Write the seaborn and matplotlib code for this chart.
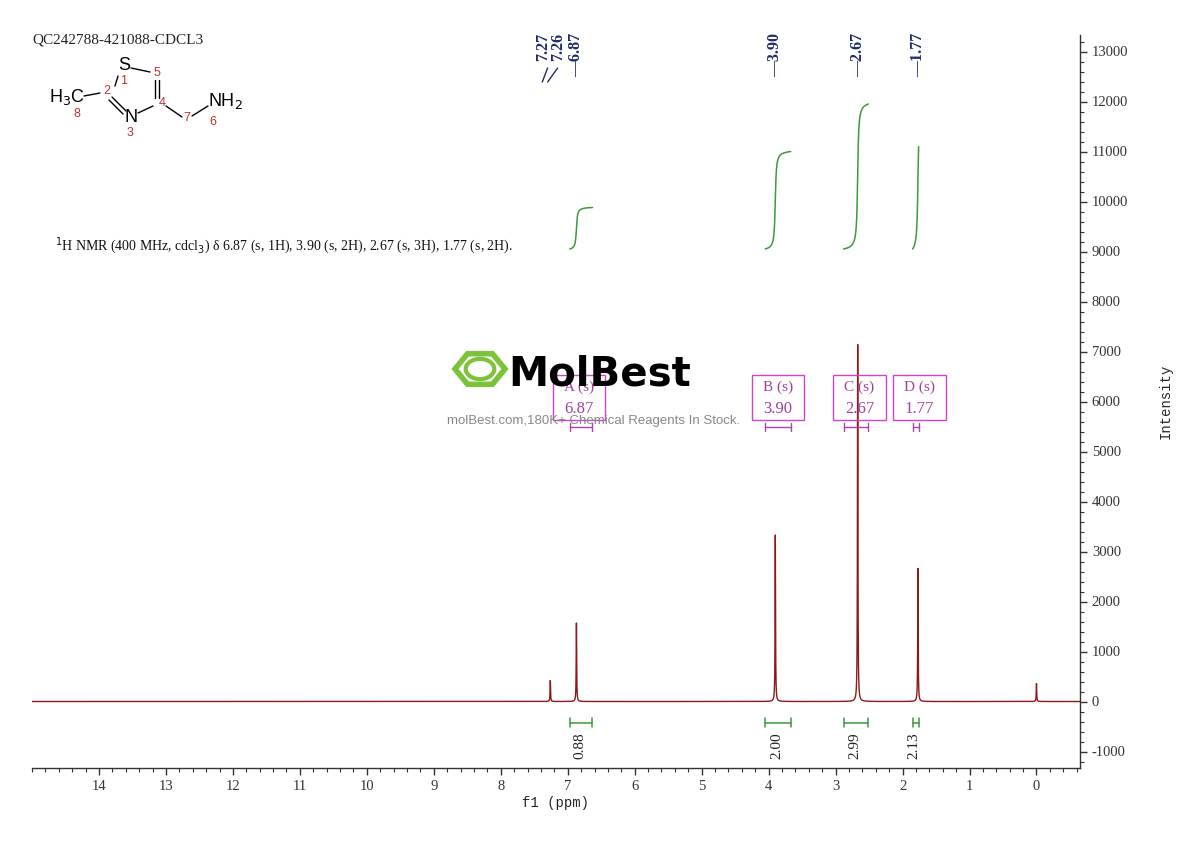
import numpy as np
import matplotlib
matplotlib.use("Agg")
import matplotlib.pyplot as plt
import seaborn as sns
from matplotlib.patches import Rectangle, RegularPolygon
from matplotlib.ticker import MultipleLocator, FixedLocator
import matplotlib.transforms as mtr

sns.set_theme(style="white")
plt.rcParams['font.family'] = ['Liberation Serif', 'DejaVu Sans']

# data
peak_ppm = [7.26, 6.87, 3.90, 2.67, 1.77, 0.00]
peak_height = [420, 1570, 3330, 7150, 2660, 360]
int_ranges = [(6.97, 6.63), (4.05, 3.67), (2.88, 2.51), (1.85, 1.76)]
int_values = ["0.88", "2.00", "2.99", "2.13"]
int_curve_top = [9880, 11000, 11950, 11100]
int_curve_base = 9050
peak_labels = ["7.27", "7.26", "6.87", "3.90", "2.67", "1.77"]
mult_letters = ["A", "B", "C", "D"]
mult_shifts = ["6.87", "3.90", "2.67", "1.77"]
x_ticks = list(range(0, 15))

W, H = 1190, 841
fig = plt.figure(figsize=(W/100, H/100), dpi=100)
ax = fig.add_axes([32/W, 1-768/H, (1080-32)/W, (768-35)/H])

x = np.linspace(15, -0.65, 40000)
g = 0.004
y = np.zeros_like(x)
for p, h in zip(peak_ppm, peak_height):
    y += h * g**2 / ((x - p)**2 + g**2)
sns.lineplot(x=x, y=y, ax=ax, color="#8B1A1A", lw=1.0, sort=False)

for (a, b), top in zip(int_ranges, int_curve_top):
    xs = np.linspace(a, b, 400)
    ys = np.zeros_like(xs)
    for p, h in zip(peak_ppm, peak_height):
        ys += h * 0.012**2 / ((xs - p)**2 + 0.012**2)
    c = np.cumsum(ys); c = c / c[-1]
    ax.plot(xs, int_curve_base + c*(top-int_curve_base), color="#3C9A3C", lw=1.1)
    ax.plot([a, b], [-420, -420], color="#3C9A3C", lw=1.1)
    for e in (a, b):
        ax.plot([e, e], [-330, -510], color="#3C9A3C", lw=1.1)

def fy(py):
    return 1 - py/H
blend = mtr.blended_transform_factory(ax.transData, fig.transFigure)

for (a, b), v in zip(int_ranges, int_values):
    ax.text((a+b)/2 + 0.02, -620, v, rotation=90, ha="center", va="top",
            fontsize=11, color="#222222")

lab_x = [7.37, 7.15, 6.87, 3.90, 2.67, 1.77]
for i, (lx, lab) in enumerate(zip(lab_x, peak_labels)):
    txt = lab if i < 2 else "\u2014" + lab
    ax.text(lx, fy(33), txt, transform=blend, rotation=90, ha="center", va="top",
            fontsize=11.5, fontweight="bold", color="#1F2A6B")
ax.plot([7.30, 7.38], [fy(68), fy(82)], transform=blend, color="#1F2A6B", lw=1)
ax.plot([7.15, 7.30], [fy(68), fy(82)], transform=blend, color="#1F2A6B", lw=1)

box_px = [(553, 605), (752, 804), (833, 886), (893, 946)]
mono = ["Liberation Mono", "DejaVu Sans Mono"]
for (x0, x1), L, s, (a, b) in zip(box_px, mult_letters, mult_shifts, int_ranges):
    fig.patches.append(Rectangle((x0/W, fy(420)), (x1-x0)/W, 45/H, transform=fig.transFigure,
                                 fill=False, ec="#CC44CC", lw=1))
    fig.text((x0+x1)/2/W, fy(387), f"{L} (s)", ha="center", va="center", fontsize=11,
             color="#A040A0", family=["Liberation Serif"])
    fig.text((x0+x1)/2/W, fy(409), s, ha="center", va="center", fontsize=12,
             color="#A040A0", family=["Liberation Serif"])
    ax.plot([a, b], [fy(427), fy(427)], transform=blend, color="#B040B0", lw=1)
    for e in (a, b):
        ax.plot([e, e], [fy(423), fy(431)], transform=blend, color="#B040B0", lw=1)

fig.text(508/W, fy(375), "MolBest", fontsize=29, color="black", va="center",
         family=["DejaVu Sans"], fontweight="bold")
fig.patches.append(RegularPolygon((480/W, fy(369)), 6, radius=0.021, orientation=np.pi/6,
                                  transform=fig.transFigure, fill=False, ec="#7CC33A", lw=4))
fig.patches.append(plt.Circle((480/W, fy(369)), 0.012, transform=fig.transFigure,
                              fill=False, ec="#7CC33A", lw=3))
fig.text(594/W, fy(421), "molBest.com,180K+ Chemical Reagents In Stock.", ha="center",
         va="center", fontsize=9.5, color="#888888", family=["Liberation Sans"])

fig.text(32/W, fy(40), "QC242788-421088-CDCL3", fontsize=11, va="center", color="#222222")
fig.text(55/W, fy(246), r"$^{1}$H NMR (400 MHz, cdcl$_{3}$) δ 6.87 (s, 1H), 3.90 (s, 2H), 2.67 (s, 3H), 1.77 (s, 2H).",
         fontsize=10, va="center", color="#111111")

sf = ["Liberation Sans", "DejaVu Sans"]
def T(px, py, s, size, c):
    fig.text(px/W, fy(py), s, ha="center", va="center", fontsize=size, color=c, family=sf)
T(124, 66, "S", 13, "black"); T(157, 73, "5", 9, "#C03030"); T(124, 81, "1", 9, "#C03030")
T(107, 91, "2", 9, "#C03030"); T(67, 97, r"H$_3$C", 13, "black"); T(77, 114, "8", 9, "#C03030")
T(162, 103, "4", 9, "#C03030"); T(131, 117, "N", 13, "black"); T(130, 133, "3", 9, "#C03030")
T(187, 118, "7", 9, "#C03030"); T(225, 101, r"NH$_2$", 13, "black"); T(213, 122, "6", 9, "#C03030")
def Lp(x0, y0, x1, y1):
    fig.add_artist(plt.Line2D([x0/W, x1/W], [fy(y0), fy(y1)], color="black", lw=1,
                              transform=fig.transFigure))
Lp(84, 96, 100, 93); Lp(115, 86, 118, 76); Lp(131, 68, 150, 72)
Lp(155, 80, 155, 98); Lp(159, 80, 159, 98); Lp(153, 106, 138, 113)
Lp(126, 111, 112, 97); Lp(123, 114, 109, 100); Lp(166, 106, 182, 117); Lp(192, 116, 208, 106)

ax.set_xlim(15, -0.65)
ax.set_ylim(-1330, 13330)
ax.xaxis.set_major_locator(FixedLocator(x_ticks))
ax.xaxis.set_minor_locator(MultipleLocator(0.2))
ax.yaxis.set_major_locator(MultipleLocator(1000))
ax.yaxis.set_minor_locator(MultipleLocator(200))
ax.yaxis.tick_right()
ax.yaxis.set_label_position("right")
for s in ["top", "left"]:
    ax.spines[s].set_visible(False)
for s in ["bottom", "right"]:
    ax.spines[s].set_color("#333333"); ax.spines[s].set_linewidth(1)
ax.tick_params(axis="both", which="major", direction="out", length=5, width=1,
               colors="#333333", labelsize=10.5, bottom=True, right=True)
ax.tick_params(axis="both", which="minor", direction="out", length=3, width=0.8,
               colors="#333333", bottom=True, right=True)
ax.tick_params(axis="y", which="both", left=False)
ax.set_xticklabels([f"{int(t)}" for t in x_ticks])
ax.set_yticklabels([f"{int(t)}" for t in ax.get_yticks()])
ax.set_xlabel("f1 (ppm)", fontsize=10, labelpad=2, family=mono)
ax.set_ylabel("Intensity", fontsize=10, labelpad=22, family=mono)
ax.grid(False)
fig.savefig("out.png", dpi=100, facecolor="white")
